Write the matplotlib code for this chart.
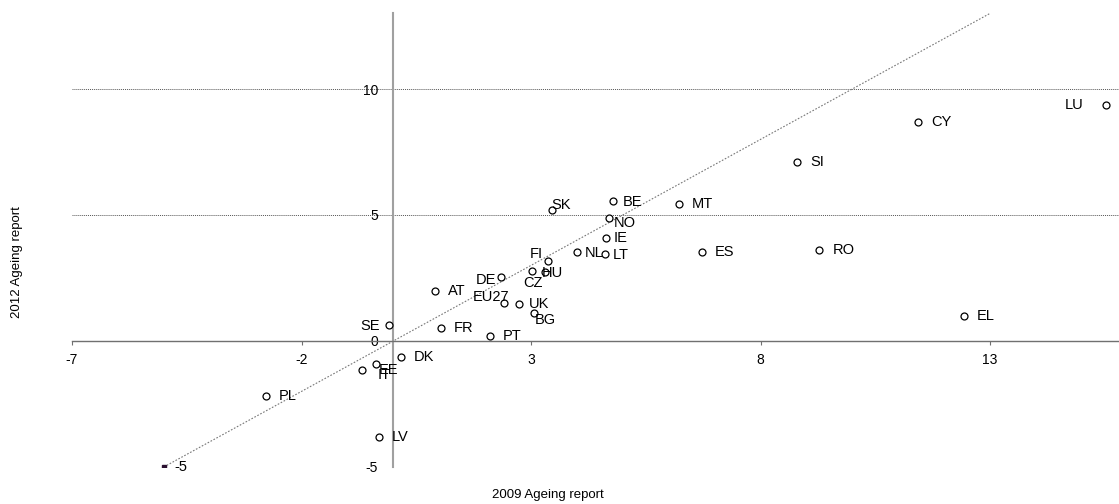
import matplotlib
matplotlib.use("Agg")
import matplotlib.pyplot as plt

plt.rcParams['font.family'] = ['Liberation Sans', 'DejaVu Sans']
plt.rcParams['axes.unicode_minus'] = False

# pension expenditure change, 2009 vs 2012 Ageing report
countries = ["LU", "CY", "SI", "MT", "ES", "RO", "EL", "BE", "SK", "NO", "IE", "NL", "LT",
             "FI", "HU", "CZ", "DE", "AT", "EU27", "UK", "BG", "SE", "FR", "PT", "DK",
             "EE", "IT", "PL", "LV"]
ar2009 = [15.53, 11.43, 8.80, 6.22, 6.73, 9.28, 12.43, 4.79, 3.45, 4.70, 4.63, 4.00, 4.61,
          3.37, 3.02, 3.31, 2.35, 0.91, 2.41, 2.74, 3.07, -0.09, 1.04, 2.11, 0.17,
          -0.37, -0.68, -2.77, -0.31]
ar2012 = [9.37, 8.69, 7.10, 5.44, 3.53, 3.61, 0.99, 5.56, 5.20, 4.88, 4.09, 3.53, 3.45,
          3.17, 2.78, 2.74, 2.54, 1.98, 1.50, 1.47, 1.10, 0.63, 0.52, 0.20, -0.62,
          -0.93, -1.16, -2.19, -3.82]

diag = [-5, 13]
xticks = [-7, -2, 3, 8, 13]
yticks = [-5, 0, 5, 10]

# label offsets in pixels (dx, dy, ha); default is right of the marker
label_pos = {
    "LU": (-23, 0, "right"), "SK": (0, 5, "left"), "NO": (5, -5, "left"),
    "IE": (8, 0, "left"), "NL": (8, -1, "left"), "LT": (8, -1, "left"),
    "FI": (-18, 7, "left"), "HU": (10, -2, "left"), "CZ": (-22, -11, "left"),
    "DE": (-5, -3, "right"), "EU27": (-31, 6, "left"), "UK": (10, 0, "left"),
    "BG": (1, -7, "left"), "SE": (-9, -1, "right"), "BE": (10, -1, "left"),
    "EE": (2, -6, "left"), "IT": (16, -5, "left"),
}

fig = plt.figure(figsize=(11.19, 5.04), dpi=100)
ax = fig.add_axes([72 / 1119, 37 / 504, 1047 / 1119, 453.6 / 504])
ax.set_xlim(-7, -7 + 1047 / 45.9)
ax.set_ylim(-5, 13)

for yv in [10, 5, -5]:
    ax.axhline(yv, color="#555555", lw=0.7, ls=(0, (1, 1)), zorder=1)

ax.plot(diag, diag, color="#777777", lw=0.8, ls=(0, (1.5, 1.5)), zorder=2)
ax.plot([diag[0]], [diag[0]], marker="s", ms=3, color="#2a1030", zorder=3)
ax.annotate("-5", (diag[0], diag[0]), xytext=(11, 0), textcoords="offset pixels",
            ha="left", va="center", fontsize=10.5)

ax.plot(ar2009, ar2012, ls="none", marker="o", ms=5, mfc="white", mec="black",
        mew=0.9, zorder=4)
for c, xv, yv in zip(countries, ar2009, ar2012):
    dx, dy, ha = label_pos.get(c, (13, 0, "left"))
    ax.annotate(c, (xv, yv), xytext=(dx, dy), textcoords="offset pixels",
                ha=ha, va="center", fontsize=10.5, zorder=5)

for s in ["top", "right"]:
    ax.spines[s].set_visible(False)
ax.spines["left"].set_position(("data", 0))
ax.spines["bottom"].set_position(("data", 0))
ax.spines["left"].set_color("#a0a0a0")
ax.spines["left"].set_linewidth(1.5)
ax.spines["bottom"].set_color("#707070")
ax.spines["bottom"].set_linewidth(1.0)

ax.set_xticks(xticks)
ax.set_yticks(yticks)
ax.tick_params(axis="x", direction="out", length=3, width=0.8, color="#707070",
               pad=6, labelsize=10)
ax.tick_params(axis="y", length=0, pad=11, labelsize=10)

fig.text(548 / 1119, 1 - 495 / 504, "2009 Ageing report", ha="center", va="center",
         fontsize=9.5)
fig.text(17 / 1119, 1 - 262 / 504, "2012 Ageing report", ha="center", va="center",
         rotation=90, fontsize=9.5)

fig.savefig("out.png", dpi=100)
